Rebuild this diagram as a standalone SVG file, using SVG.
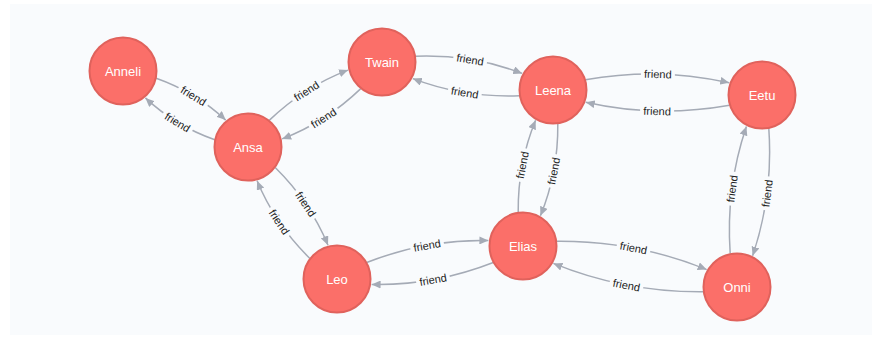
<svg xmlns="http://www.w3.org/2000/svg" width="872" height="341" viewBox="0 0 872 341">
  <defs>
    <marker id="arrow" markerUnits="userSpaceOnUse" markerWidth="10" markerHeight="8" viewBox="0 -4 10 8" refX="9" refY="0" orient="auto">
      <path d="M0,-4 L9,0 L0,4 Z" fill="#a5abb6"/>
    </marker>
    <style>
      .edge { fill: none; stroke: #a5abb6; stroke-width: 1.5; marker-end: url(#arrow); }
      .gap { fill: #f9fbfd; }
      .rel { font-family: "Liberation Sans", Arial, sans-serif; font-size: 11px; fill: #222; text-anchor: middle; }
      .node circle { fill: #fb6f69; stroke: #e0625c; stroke-width: 2; }
      .node text { font-family: "Liberation Sans", Arial, sans-serif; font-size: 13px; fill: #ffffff; text-anchor: middle; }
    </style>
  </defs>

  <!-- canvas -->
  <rect x="10" y="4" width="862" height="331" fill="#f9fbfd"/>

  <g id="connectors">
    <!-- Anneli <-> Ansa -->
    <path class="edge" d="M156.2,78.2 Q196.2,92.4 225.7,120.1"/>
    <g transform="translate(193.6,95.8) rotate(31.3)"><rect class="gap" x="-17" y="-6" width="34" height="12"/><text class="rel" y="4">friend</text></g>
    <path class="edge" d="M214.8,139.8 Q174.8,125.6 145.4,97.9"/>
    <g transform="translate(177.5,122.2) rotate(31.3)"><rect class="gap" x="-17" y="-6" width="34" height="12"/><text class="rel" y="4">friend</text></g>

    <!-- Ansa <-> Twain -->
    <path class="edge" d="M269.2,120.4 Q304.3,86.7 348.0,70.1"/>
    <g transform="translate(306.4,91.0) rotate(-32.4)"><rect class="gap" x="-17" y="-6" width="34" height="12"/><text class="rel" y="4">friend</text></g>
    <path class="edge" d="M360.8,88.6 Q325.7,122.3 282.1,138.9"/>
    <g transform="translate(323.6,118.0) rotate(-32.4)"><rect class="gap" x="-17" y="-6" width="34" height="12"/><text class="rel" y="4">friend</text></g>

    <!-- Twain <-> Leena -->
    <path class="edge" d="M415.5,56.3 Q471.6,54.2 522.2,73.4"/>
    <g transform="translate(470.2,59.5) rotate(9.3)"><rect class="gap" x="-17" y="-6" width="34" height="12"/><text class="rel" y="4">friend</text></g>
    <path class="edge" d="M519.5,95.7 Q463.4,97.8 412.8,78.6"/>
    <g transform="translate(464.8,92.5) rotate(9.3)"><rect class="gap" x="-17" y="-6" width="34" height="12"/><text class="rel" y="4">friend</text></g>

    <!-- Leena <-> Eetu -->
    <path class="edge" d="M585.4,79.7 Q658.6,66.7 729.2,82.8"/>
    <g transform="translate(657.9,74.0) rotate(1.4)"><rect class="gap" x="-17" y="-6" width="34" height="12"/><text class="rel" y="4">friend</text></g>
    <path class="edge" d="M729.6,105.3 Q656.4,118.3 585.8,102.2"/>
    <g transform="translate(657.1,111.0) rotate(1.4)"><rect class="gap" x="-17" y="-6" width="34" height="12"/><text class="rel" y="4">friend</text></g>

    <!-- Ansa <-> Leo -->
    <path class="edge" d="M275.2,167.5 Q310.0,201.8 328.0,245.2"/>
    <g transform="translate(305.8,204.1) rotate(56)"><rect class="gap" x="-17" y="-6" width="34" height="12"/><text class="rel" y="4">friend</text></g>
    <path class="edge" d="M309.9,258.5 Q275.0,224.2 257.1,180.8"/>
    <g transform="translate(279.2,221.9) rotate(56)"><rect class="gap" x="-17" y="-6" width="34" height="12"/><text class="rel" y="4">friend</text></g>

    <!-- Leo <-> Elias -->
    <path class="edge" d="M366.7,262.5 Q426.3,239.2 488.4,240.6"/>
    <g transform="translate(427.0,245.4) rotate(-10.1)"><rect class="gap" x="-17" y="-6" width="34" height="12"/><text class="rel" y="4">friend</text></g>
    <path class="edge" d="M493.3,262.5 Q433.7,285.8 371.6,284.4"/>
    <g transform="translate(433.0,279.6) rotate(-10.1)"><rect class="gap" x="-17" y="-6" width="34" height="12"/><text class="rel" y="4">friend</text></g>

    <!-- Elias <-> Onni -->
    <path class="edge" d="M556.7,241.2 Q635.5,240.5 706.7,269.6"/>
    <g transform="translate(633.6,247.9) rotate(10.8)"><rect class="gap" x="-17" y="-6" width="34" height="12"/><text class="rel" y="4">friend</text></g>
    <path class="edge" d="M703.4,291.8 Q624.5,292.5 553.4,263.4"/>
    <g transform="translate(626.4,285.1) rotate(10.8)"><rect class="gap" x="-17" y="-6" width="34" height="12"/><text class="rel" y="4">friend</text></g>

    <!-- Leena <-> Elias -->
    <path class="edge" d="M557.8,123.7 Q558.3,172.4 540.4,215.7"/>
    <g transform="translate(553.7,171.0) rotate(-79.1)"><rect class="gap" x="-17" y="-6" width="34" height="12"/><text class="rel" y="4">friend</text></g>
    <path class="edge" d="M518.2,212.3 Q517.7,163.6 535.6,120.3"/>
    <g transform="translate(522.3,165.0) rotate(-79.1)"><rect class="gap" x="-17" y="-6" width="34" height="12"/><text class="rel" y="4">friend</text></g>

    <!-- Eetu <-> Onni -->
    <path class="edge" d="M768.8,128.3 Q773.4,194.6 752.6,255.7"/>
    <g transform="translate(767.1,193.3) rotate(-82.6)"><rect class="gap" x="-17" y="-6" width="34" height="12"/><text class="rel" y="4">friend</text></g>
    <path class="edge" d="M730.2,253.7 Q725.6,187.4 746.4,126.4"/>
    <g transform="translate(732.0,188.7) rotate(-82.6)"><rect class="gap" x="-17" y="-6" width="34" height="12"/><text class="rel" y="4">friend</text></g>
  </g>

  <g id="node-anneli" class="node"><circle cx="123" cy="71" r="33.5"/><text x="123" y="75.5">Anneli</text></g>
  <g id="node-twain" class="node"><circle cx="382" cy="62" r="33.5"/><text x="382" y="66.5">Twain</text></g>
  <g id="node-ansa" class="node"><circle cx="248" cy="147" r="33.5"/><text x="248" y="151.5">Ansa</text></g>
  <g id="node-leena" class="node"><circle cx="553" cy="90" r="33.5"/><text x="553" y="94.5">Leena</text></g>
  <g id="node-eetu" class="node"><circle cx="762" cy="95" r="33.5"/><text x="762" y="99.5">Eetu</text></g>
  <g id="node-elias" class="node"><circle cx="523" cy="246" r="33.5"/><text x="523" y="250.5">Elias</text></g>
  <g id="node-leo" class="node"><circle cx="337" cy="279" r="33.5"/><text x="337" y="283.5">Leo</text></g>
  <g id="node-onni" class="node"><circle cx="737" cy="287" r="33.5"/><text x="737" y="291.5">Onni</text></g>
</svg>
